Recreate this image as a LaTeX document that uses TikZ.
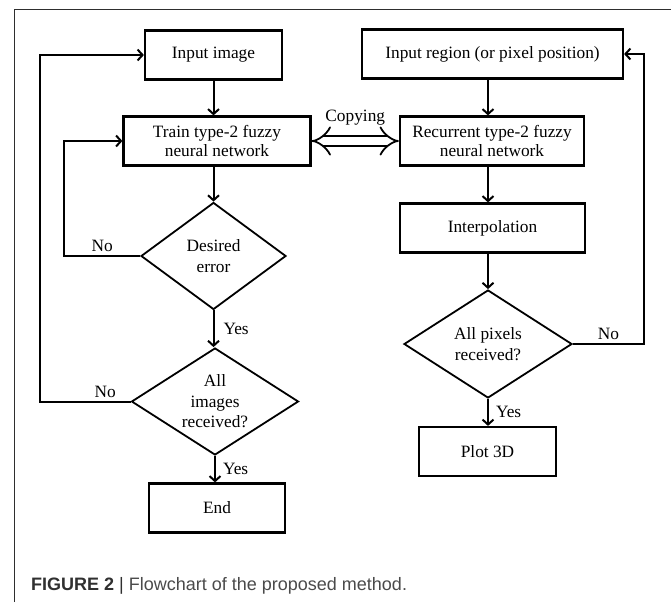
\documentclass[tikz,border=0pt]{standalone}
\usepackage{fontspec}
\setmainfont{Liberation Serif}
\newfontfamily\capfont{Liberation Sans}
\usepackage{tikz}
\usetikzlibrary{arrows.meta,shapes.geometric}
\definecolor{ink}{HTML}{000000}
\definecolor{edge}{HTML}{2E2E2E}
\definecolor{captxt}{HTML}{4A4A4A}
\definecolor{capbold}{HTML}{303030}
\tikzset{
  box/.style={draw=ink, line width=2.2pt, minimum width=#1, minimum height=49pt,
    inner sep=0pt, align=center, font=\fontsize{17.3}{18.5}\selectfont},
  decide/.style 2 args={draw=ink, diamond, line width=1.8pt, minimum width=#1,
    minimum height=#2, inner sep=0pt, aspect=1.5, align=center,
    font=\fontsize{17.3}{20.5}\selectfont},
  flow/.style={-{Straight Barb[length=5pt,width=11pt]}, line width=2pt, draw=ink},
  lbl/.style={font=\fontsize{17.3}{19}\selectfont, inner sep=2pt},
}
\begin{document}
\begin{tikzpicture}[x=1pt,y=-1pt]
\useasboundingbox (0,0) rectangle (671,602);
\draw[edge, line width=1pt] (14,602) -- (14,10) -- (671,10);

\node[box=137pt] (inimg) at (213.5,55) {Input image};
\node[box=187pt] (train) at (217,141) {Train type-2 fuzzy\\neural network};
\node[decide={145pt}{107pt}] (err) at (213.5,256) {Desired\\error};
\node[decide={167pt}{107pt}] (allimg) at (215,401.5) {All\\images\\received?};
\node[box=136pt] (finish) at (217,508) {End};

\node[box=261pt] (inreg) at (492.5,54) {Input region (or pixel position)};
\node[box=184pt] (recur) at (492,141) {Recurrent type-2 fuzzy\\neural network};
\node[box=185pt] (interp) at (492.5,228) {Interpolation};
\node[decide={168pt}{108pt}] (allpix) at (488,344) {All pixels\\received?};
\node[box=137pt] (plot) at (487.5,451.5) {Plot 3D};

\draw[flow] (inimg.south -| err.north) -- (train.north -| err.north);
\draw[flow] (train.south -| err.north) -- (err.north);
\draw[flow] (err.south) -- (allimg.north -| err.south)
  node[lbl, right, midway, xshift=7pt] (yes1) {Yes};
\draw[flow] (allimg.south) -- (finish.north -| allimg.south)
  node[lbl, right, midway, xshift=5pt] (yes2) {Yes};

\draw[flow] (inreg.south -| allpix.north) -- (recur.north -| allpix.north);
\draw[flow] (recur.south -| allpix.north) -- (interp.north -| allpix.north);
\draw[flow] (interp.south -| allpix.north) -- (allpix.north);
\draw[flow] (allpix.south) -- (plot.north -| allpix.south)
  node[lbl, right, midway, xshift=5pt] (yes3) {Yes};

\draw[flow] (err.west) -- ++(-76,0)
  node[lbl, above, midway, yshift=1pt] (no1) {No} |- (train.west);
\draw[flow] (allimg.west) -- ++(-91,0)
  node[lbl, above, pos=0.28, yshift=1pt] (no2) {No} |- (inimg.west);
\draw[flow] (allpix.east) -- ++(71,0)
  node[lbl, above, midway, yshift=1pt] (no3) {No} |- (inreg.east);

\draw[{Implies}-{Implies}, line width=1.8pt, double, double distance=8.5pt]
  (train.east) -- (recur.west)
  node[lbl, midway, yshift=23pt] (copy) {Copying};

\node[anchor=base west, inner sep=0pt, text=captxt,
  font=\capfont\fontsize{18}{20}\selectfont] (cap) at (31,590)
  {\textcolor{capbold}{\bfseries FIGURE 2} \textcolor{capbold}{|} Flowchart of the proposed method.};
\end{tikzpicture}
\end{document}
